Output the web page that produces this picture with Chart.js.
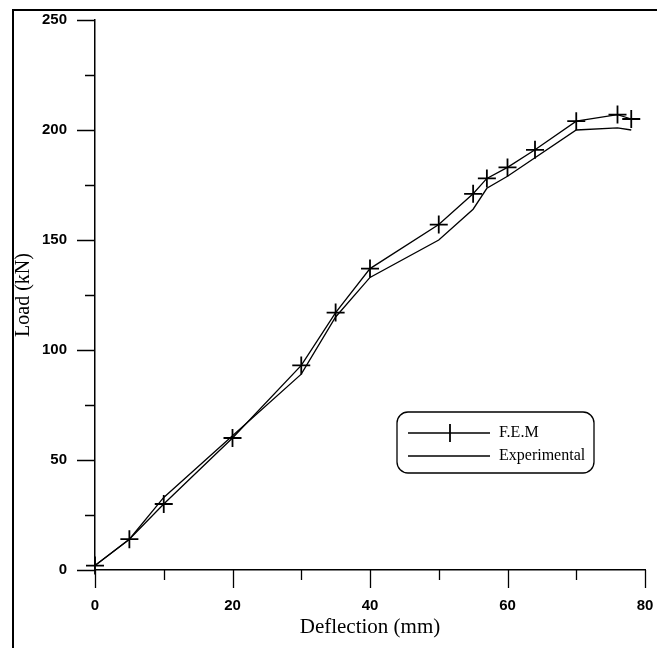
<!DOCTYPE html>
<html>
<head>
<meta charset="utf-8">
<script src="https://cdn.jsdelivr.net/npm/chart.js@4/dist/chart.umd.min.js"></script>
<style>
  body { margin: 0; background: #fff; }
  canvas { display: block; }
</style>
</head>
<body>
<canvas id="myChart" width="657" height="648"></canvas>
<script>
const femDeflection = [0, 5, 10, 20, 30, 35, 40, 50, 55, 57, 60, 64, 70, 76, 78];
const femLoad = [2, 14, 30, 60, 93, 117, 137, 157, 171, 178, 183, 191, 204, 207, 205];
const expDeflection = [0, 5, 10, 20, 30, 35, 40, 50, 55, 57, 60, 70, 76, 78];
const expLoad = [2, 14, 33, 61, 89, 115, 133, 150, 164, 173.5, 179, 200, 201, 200];

const seriesLabels = ["F.E.M", "Experimental"];
const xTitle = "Deflection (mm)";
const yTitle = "Load (kN)";

const tickFont = { family: "Liberation Sans, Arial, sans-serif", size: 15, weight: "bold" };
const serif = "Liberation Serif, Times New Roman, serif";

function toPoints(xs, ys) {
  return xs.map((x, i) => ({ x: x, y: ys[i] }));
}

// frame lines round the figure
const framePlugin = {
  id: "frame",
  beforeDraw(chart) {
    const c = chart.ctx;
    c.save();
    c.strokeStyle = "#000";
    c.lineWidth = 2;
    c.beginPath();
    c.moveTo(13, 648);
    c.lineTo(13, 10);
    c.lineTo(657, 10);
    c.stroke();
    c.restore();
  },
};

// major/minor tick marks outside the axes + axis titles
const axisPlugin = {
  id: "axisMarks",
  afterDraw(chart) {
    const c = chart.ctx;
    const area = chart.chartArea;
    const xs = chart.scales.x;
    const ys = chart.scales.y;
    c.save();
    c.strokeStyle = "#000";
    c.lineWidth = 1.3;
    c.beginPath();
    xs.ticks.forEach((t) => {
      const px = Math.round(xs.getPixelForValue(t.value)) + 0.5;
      const len = t.value % 20 === 0 ? 18 : 10;
      c.moveTo(px, area.bottom);
      c.lineTo(px, area.bottom + len);
    });
    ys.ticks.forEach((t) => {
      const py = Math.round(ys.getPixelForValue(t.value)) + 0.5;
      const len = t.value % 50 === 0 ? 18 : 10;
      c.moveTo(area.left, py);
      c.lineTo(area.left - len, py);
    });
    c.stroke();

    c.fillStyle = "#000";
    c.textAlign = "center";
    c.textBaseline = "middle";
    c.font = "21px " + serif;
    c.fillText(xTitle, (area.left + area.right) / 2, 627);
    c.font = "20px " + serif;
    c.translate(24, (area.top + area.bottom) / 2);
    c.rotate(-Math.PI / 2);
    c.fillText(yTitle, 0, 0);
    c.restore();
  },
};

// rounded legend box
const legendPlugin = {
  id: "boxLegend",
  afterDraw(chart) {
    const c = chart.ctx;
    const bx = 397, by = 412, bw = 197, bh = 61;
    c.save();
    c.strokeStyle = "#000";
    c.lineWidth = 1.3;
    c.beginPath();
    c.roundRect(bx, by, bw, bh, 11);
    c.stroke();

    c.font = "16px " + serif;
    c.fillStyle = "#000";
    c.textAlign = "left";
    c.textBaseline = "middle";
    chart.data.datasets.forEach((ds, i) => {
      const y = by + 21 + i * 23;
      c.beginPath();
      c.lineWidth = 1.3;
      c.moveTo(bx + 11, y);
      c.lineTo(bx + 93, y);
      c.stroke();
      if (ds.pointRadius > 0) {
        c.lineWidth = ds.pointBorderWidth;
        c.beginPath();
        c.moveTo(bx + 53, y - ds.pointRadius);
        c.lineTo(bx + 53, y + ds.pointRadius);
        c.stroke();
      }
      c.fillText(ds.label, bx + 102, y);
    });
    c.restore();
  },
};

const ctx = document.getElementById("myChart");

const myChart = new Chart(ctx, {
  type: "line",
  data: {
    datasets: [
      {
        label: seriesLabels[0],
        data: toPoints(femDeflection, femLoad),
        borderColor: "#000",
        borderWidth: 1.3,
        pointStyle: "cross",
        pointRadius: 9,
        pointBorderWidth: 1.8,
        pointBorderColor: "#000",
        tension: 0,
        fill: false,
        clip: false,
      },
      {
        label: seriesLabels[1],
        data: toPoints(expDeflection, expLoad),
        borderColor: "#000",
        borderWidth: 1.3,
        pointRadius: 0,
        tension: 0,
        fill: false,
        clip: false,
      },
    ],
  },
  options: {
    responsive: false,
    animation: false,
    layout: { padding: { top: 20, right: 12, left: 0, bottom: 0 } },
    plugins: {
      legend: { display: false },
      tooltip: { enabled: false },
    },
    scales: {
      x: {
        type: "linear",
        min: 0,
        max: 80,
        grid: { display: false, drawTicks: false },
        border: { display: true, color: "#000", width: 1.5 },
        ticks: {
          stepSize: 10,
          autoSkip: false,
          maxRotation: 0,
          padding: 27,
          color: "#000",
          font: tickFont,
          callback: (v) => (v % 20 === 0 ? v : ""),
        },
        afterFit: (scale) => {
          scale.height = 78;
          scale.paddingLeft = 0;
          scale.paddingRight = 0;
        },
      },
      y: {
        type: "linear",
        min: 0,
        max: 250,
        grid: { display: false, drawTicks: false },
        border: { display: true, color: "#000", width: 1.5 },
        ticks: {
          stepSize: 25,
          autoSkip: false,
          padding: 28,
          color: "#000",
          font: tickFont,
          callback: (v) => (v % 50 === 0 ? v : ""),
        },
        afterFit: (scale) => {
          scale.width = 95;
          scale.paddingTop = 0;
          scale.paddingBottom = 0;
        },
      },
    },
  },
  plugins: [framePlugin, axisPlugin, legendPlugin],
});
</script>
</body>
</html>
